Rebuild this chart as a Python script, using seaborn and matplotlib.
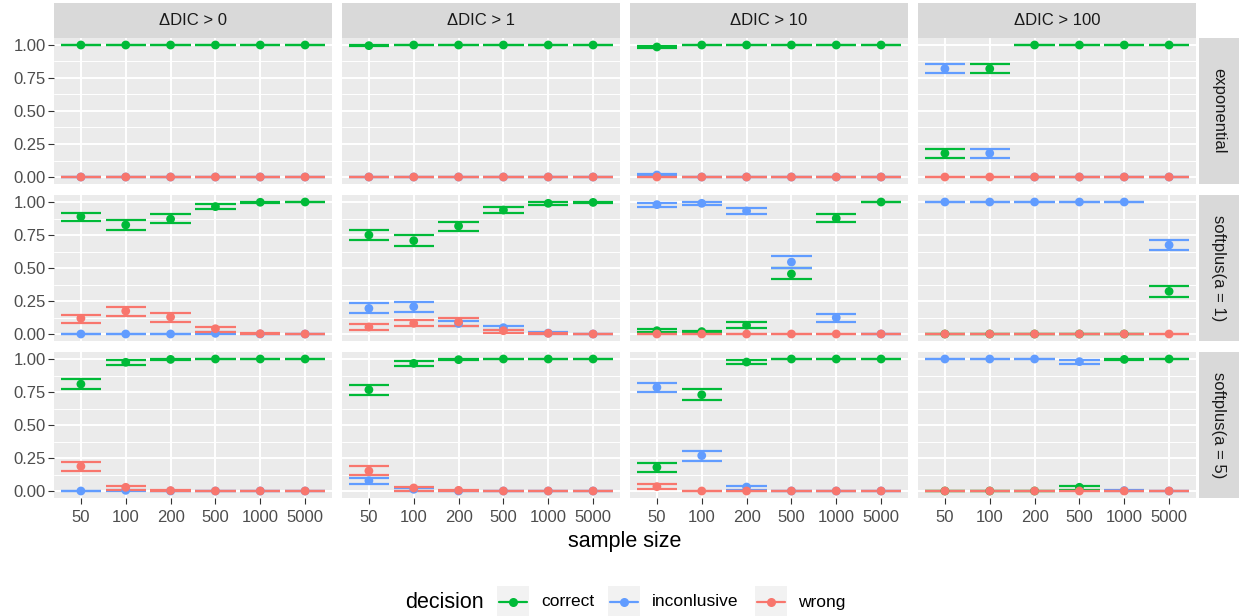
import numpy as np
import pandas as pd
import matplotlib.pyplot as plt
import seaborn as sns
from matplotlib.patches import Rectangle
from matplotlib.lines import Line2D

# Facet levels
sizes = ["50", "100", "200", "500", "1000", "5000"]
thresholds = ["0", "1", "10", "100"]
dists = ["exponential", "softplus(a = 1)", "softplus(a = 5)"]
decisions = ["correct", "inconlusive", "wrong"]
colors = {"correct": "#00BA38", "inconlusive": "#619CFF", "wrong": "#F8766D"}

# rows: exp>0, exp>1, exp>10, exp>100, sp1>0, sp1>1, sp1>10, sp1>100, sp5>0, sp5>1, sp5>10, sp5>100
correct_est = [
    [1, 1, 1, 1, 1, 1],
    [0.995, 1, 1, 1, 1, 1],
    [0.985, 1, 1, 1, 1, 1],
    [0.18, 0.82, 1, 1, 1, 1],
    [0.889, 0.826, 0.871, 0.965, 0.998, 1],
    [0.75, 0.707, 0.818, 0.939, 0.99, 0.997],
    [0.025, 0.018, 0.066, 0.455, 0.876, 1],
    [0, 0, 0, 0, 0, 0.323],
    [0.81, 0.975, 0.997, 1, 1, 1],
    [0.767, 0.967, 0.995, 1, 1, 1],
    [0.18, 0.729, 0.977, 1, 1, 1],
    [0, 0, 0, 0.028, 0.997, 1],
]
correct_lo = [
    [1, 1, 1, 1, 1, 1],
    [0.99, 1, 1, 1, 1, 1],
    [0.975, 1, 1, 1, 1, 1],
    [0.145, 0.785, 1, 1, 1, 1],
    [0.856, 0.79, 0.841, 0.944, 0.994, 1],
    [0.71, 0.667, 0.78, 0.917, 0.98, 0.995],
    [0.013, 0.005, 0.043, 0.414, 0.846, 1],
    [0, 0, 0, 0, 0, 0.283],
    [0.775, 0.954, 0.992, 1, 1, 1],
    [0.727, 0.944, 0.99, 1, 1, 1],
    [0.142, 0.69, 0.96, 1, 1, 1],
    [0, 0, 0, 0.01, 0.99, 1],
]
correct_hi = [
    [1, 1, 1, 1, 1, 1],
    [1, 1, 1, 1, 1, 1],
    [0.995, 1, 1, 1, 1, 1],
    [0.215, 0.855, 1, 1, 1, 1],
    [0.919, 0.861, 0.907, 0.985, 1, 1],
    [0.788, 0.747, 0.851, 0.965, 0.998, 1],
    [0.035, 0.025, 0.088, 0.5, 0.907, 1],
    [0, 0, 0, 0, 0, 0.364],
    [0.851, 0.992, 1, 1, 1, 1],
    [0.805, 0.987, 1, 1, 1, 1],
    [0.215, 0.77, 0.992, 1, 1, 1],
    [0, 0, 0, 0.038, 1, 1],
]
incon_est = [
    [0, 0, 0, 0, 0, 0],
    [0, 0, 0, 0, 0, 0],
    [0.015, 0, 0, 0, 0, 0],
    [0.82, 0.18, 0, 0, 0, 0],
    [0, 0, 0, 0.005, 0, 0],
    [0.194, 0.207, 0.08, 0.048, 0.007, 0],
    [0.98, 0.99, 0.932, 0.545, 0.124, 0],
    [1, 1, 1, 1, 1, 0.674],
    [0, 0.005, 0, 0, 0, 0],
    [0.078, 0.013, 0, 0, 0, 0],
    [0.785, 0.268, 0.03, 0, 0, 0],
    [1, 1, 1, 0.98, 0.003, 0],
]
incon_lo = [
    [0, 0, 0, 0, 0, 0],
    [0, 0, 0, 0, 0, 0],
    [0.005, 0, 0, 0, 0, 0],
    [0.785, 0.145, 0, 0, 0, 0],
    [0, 0, 0, 0, 0, 0],
    [0.159, 0.167, 0.06, 0.03, 0.002, 0],
    [0.962, 0.975, 0.912, 0.497, 0.091, 0],
    [1, 1, 1, 1, 1, 0.634],
    [0, 0, 0, 0, 0, 0],
    [0.05, 0.003, 0, 0, 0, 0],
    [0.747, 0.228, 0.008, 0, 0, 0],
    [1, 1, 1, 0.96, 0, 0],
]
incon_hi = [
    [0, 0, 0, 0, 0, 0],
    [0, 0, 0, 0, 0, 0],
    [0.025, 0, 0, 0, 0, 0],
    [0.855, 0.215, 0, 0, 0, 0],
    [0, 0, 0, 0.012, 0, 0],
    [0.232, 0.242, 0.1, 0.058, 0.012, 0],
    [0.995, 1, 0.957, 0.588, 0.154, 0],
    [1, 1, 1, 1, 1, 0.715],
    [0, 0.01, 0, 0, 0, 0],
    [0.1, 0.023, 0, 0, 0, 0],
    [0.82, 0.306, 0.04, 0, 0, 0],
    [1, 1, 1, 0.995, 0.008, 0],
]
wrong_est = [
    [0, 0, 0, 0, 0, 0],
    [0, 0, 0, 0, 0, 0],
    [0, 0, 0, 0, 0, 0],
    [0, 0, 0, 0, 0, 0],
    [0.119, 0.174, 0.129, 0.04, 0.002, 0],
    [0.053, 0.081, 0.091, 0.025, 0.005, 0],
    [0, 0, 0, 0, 0, 0],
    [0, 0, 0, 0, 0, 0],
    [0.187, 0.028, 0.003, 0, 0, 0],
    [0.152, 0.023, 0.005, 0, 0, 0],
    [0.033, 0, 0, 0, 0, 0],
    [0, 0, 0, 0, 0, 0],
]
wrong_lo = [
    [0, 0, 0, 0, 0, 0],
    [0, 0, 0, 0, 0, 0],
    [0, 0, 0, 0, 0, 0],
    [0, 0, 0, 0, 0, 0],
    [0.081, 0.136, 0.093, 0.018, 0, 0],
    [0.033, 0.058, 0.063, 0.01, 0, 0],
    [0, 0, 0, 0, 0, 0],
    [0, 0, 0, 0, 0, 0],
    [0.149, 0.01, 0, 0, 0, 0],
    [0.119, 0.003, 0, 0, 0, 0],
    [0.013, 0, 0, 0, 0, 0],
    [0, 0, 0, 0, 0, 0],
]
wrong_hi = [
    [0, 0, 0, 0, 0, 0],
    [0, 0, 0, 0, 0, 0],
    [0, 0, 0, 0, 0, 0],
    [0, 0, 0, 0, 0, 0],
    [0.144, 0.207, 0.162, 0.056, 0.005, 0],
    [0.076, 0.109, 0.121, 0.03, 0.01, 0],
    [0, 0, 0, 0, 0, 0],
    [0, 0, 0, 0, 0, 0],
    [0.223, 0.04, 0.008, 0, 0, 0],
    [0.187, 0.033, 0.01, 0, 0, 0],
    [0.05, 0, 0, 0, 0, 0],
    [0, 0, 0, 0, 0, 0],
]

# long table
est = {"correct": correct_est, "inconlusive": incon_est, "wrong": wrong_est}
lo = {"correct": correct_lo, "inconlusive": incon_lo, "wrong": wrong_lo}
hi = {"correct": correct_hi, "inconlusive": incon_hi, "wrong": wrong_hi}
rows = []
for d in decisions:
    for i, dist in enumerate(dists):
        for j, thr in enumerate(thresholds):
            k = i * len(thresholds) + j
            for p, n in enumerate(sizes):
                rows.append({"dist": dist, "thr": thr, "size": n, "pos": p,
                             "decision": d, "est": est[d][k][p],
                             "lo": lo[d][k][p], "hi": hi[d][k][p]})
df = pd.DataFrame(rows)

sns.set_theme(style="white")
plt.rcParams["font.family"] = ["Liberation Sans", "DejaVu Sans"]

W, H = 1240, 616
fig, axes = plt.subplots(3, 4, figsize=(W / 100, H / 100), dpi=100, sharex=True, sharey=True)
fig.subplots_adjust(left=54 / W, right=1196 / W, top=1 - 38.4 / H, bottom=1 - 497.6 / H,
                    wspace=10 / 278, hspace=11.8 / 145.2)

for i, dist in enumerate(dists):
    for j, thr in enumerate(thresholds):
        ax = axes[i, j]
        ax.set_facecolor("#EBEBEB")
        for s in ax.spines.values():
            s.set_visible(False)
        ax.set_xlim(-0.6, len(sizes) - 0.4)
        ax.set_ylim(-0.05, 1.05)
        ax.set_yticks([0, 0.25, 0.5, 0.75, 1.0])
        ax.set_yticks([0.125, 0.375, 0.625, 0.875], minor=True)
        ax.set_xticks(range(len(sizes)))
        ax.set_xticklabels(sizes)
        ax.set_yticklabels(["0.00", "0.25", "0.50", "0.75", "1.00"])
        ax.grid(True, which="major", color="white", linewidth=1.4)
        ax.grid(True, which="minor", axis="y", color="white", linewidth=0.7)
        ax.set_axisbelow(True)
        ax.tick_params(which="major", length=4, width=0.8, color="#333333",
                       labelcolor="#4D4D4D", labelsize=12, pad=2,
                       left=(j == 0), bottom=(i == 2))
        ax.tick_params(axis="x", pad=5)
        ax.tick_params(which="minor", length=0)

        sub = df[(df["dist"] == dist) & (df["thr"] == thr)]
        for d in decisions:
            g = sub[sub["decision"] == d]
            ax.hlines(g["lo"], g["pos"] - 0.45, g["pos"] + 0.45, color=colors[d], linewidth=1.6, zorder=2)
            ax.hlines(g["hi"], g["pos"] - 0.45, g["pos"] + 0.45, color=colors[d], linewidth=1.6, zorder=2)
        sns.scatterplot(data=sub, x="pos", y="est", hue="decision", hue_order=decisions,
                        palette=colors, s=40, linewidth=0, legend=False, ax=ax, zorder=3)
        ax.set_xlabel("")
        ax.set_ylabel("")

        if i == 0:
            ax.add_patch(Rectangle((0, 1), 1, 35.5 / 145.2, transform=ax.transAxes,
                                   facecolor="#D9D9D9", edgecolor="none", clip_on=False))
            ax.text(0.5, 1 + 17.5 / 145.2, "ΔDIC > " + thr, transform=ax.transAxes,
                    ha="center", va="center", fontsize=12, color="#1A1A1A")
        if j == 3:
            ax.add_patch(Rectangle((1 + 3 / 278, 0), 40 / 278, 1, transform=ax.transAxes,
                                   facecolor="#D9D9D9", edgecolor="none", clip_on=False))
            ax.text(1 + 23 / 278, 0.5, dist, transform=ax.transAxes, rotation=-90,
                    ha="center", va="center", fontsize=12, color="#1A1A1A")

fig.text(625 / W, 1 - 541 / H, "sample size", ha="center", va="center", fontsize=15.5, color="black")

# legend at the bottom
ly = 1 - 602 / H
fig.text(405 / W, ly, "decision", ha="left", va="center", fontsize=15.5, color="black")
key_x = [497, 608, 755]
lab_x = [541, 652, 798]
for d, kx, tx in zip(decisions, key_x, lab_x):
    fig.patches.append(Rectangle((kx / W, 1 - 616 / H), 32 / W, 30 / H, transform=fig.transFigure,
                                 facecolor="#F2F2F2", edgecolor="none"))
    fig.lines.append(Line2D([(kx + 2) / W, (kx + 30) / W], [ly, ly], transform=fig.transFigure,
                            color=colors[d], linewidth=1.6))
    fig.lines.append(Line2D([(kx + 16) / W], [ly], transform=fig.transFigure, marker="o",
                            markersize=6.5, markeredgewidth=0, color=colors[d]))
    fig.text(tx / W, ly, d, ha="left", va="center", fontsize=12.5, color="black")

fig.savefig("out.png", dpi=100)
